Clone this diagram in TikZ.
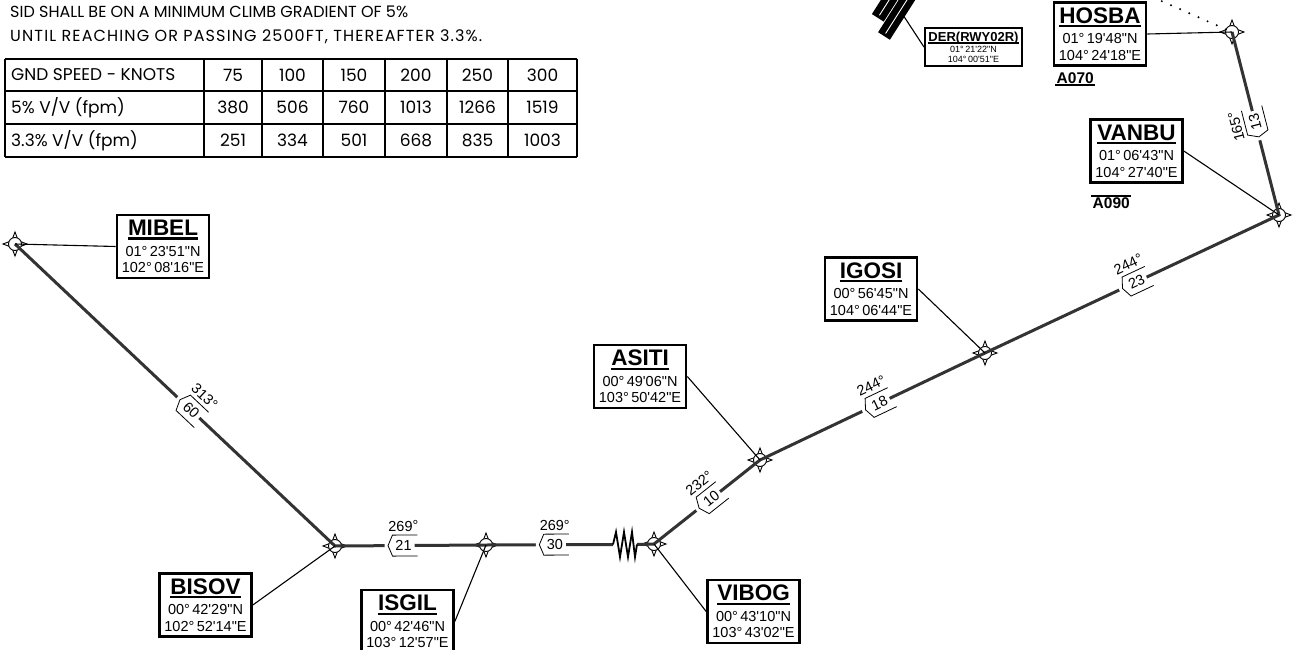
\documentclass[tikz,border=0pt]{standalone}
\usepackage{fontspec}
\usetikzlibrary{shapes.geometric}
\newfontfamily\chartfont{Liberation Sans}
\newfontfamily\notefont{Poppins}
\newcommand{\sq}{\textquotesingle}
% underlined text: {rule depth}{rule thickness}{text}
\newcommand{\ulbar}[3]{\setbox0\hbox{#3}\copy0\kern-\wd0\rule[-#1]{\wd0}{#2}}
\newcommand{\wpname}[1]{{\fontsize{22.5}{23}\selectfont\bfseries\ulbar{4pt}{2.2pt}{#1}}}
% course / distance tag on a leg: [text flip]{from}{to}{pos}{distance}{course}
\newcommand{\legtag}[6][0]{%
  \path (#2) -- (#3) coordinate[pos=#4] (tagc);
  \pgfmathanglebetweenpoints{\pgfpointanchor{#2}{center}}{\pgfpointanchor{#3}{center}}%
  \let\tagangle\pgfmathresult
  \pgfmathsetmacro\textangle{ifthenelse(and(\tagangle>90,\tagangle<270),\tagangle-180,\tagangle)+#1}%
  \begin{scope}[shift={(tagc)}, rotate=\tagangle]
    \fill[white] (-11,-4) rectangle (19,4);
    \draw[tagline] (-14,-10.5) -- (11,-10.5) -- (15.5,0) -- (11,10.5) -- (-14,10.5);
  \end{scope}
  \node[tagtext, rotate=\textangle] (tagnum) at (tagc) {#5};
  \begin{scope}[shift={(tagc)}, rotate=\textangle]
    \node[tagtext, rotate=\textangle] (tagcourse) at (0,-19.5) {#6};
  \end{scope}
}

\begin{document}
\begin{tikzpicture}[x=1pt, y=-1pt,
    leg/.style={line width=3pt, color=black!80},
    leader/.style={line width=1.1pt},
    wpt/.style={star, star points=4, star point ratio=2.6, minimum size=24pt, inner sep=0pt,
      draw, fill=white, line width=0.9pt, label={[wpring]center:}},
    wpring/.style={circle, draw, fill=white, minimum size=13pt, inner sep=0pt, line width=0.9pt},
    wpbox/.style={draw, fill=white, line width=2.4pt, align=center, inner sep=5pt,
      font=\chartfont\fontsize{14.5}{16.5}\selectfont},
    derbox/.style={draw, fill=white, line width=2pt, align=center, inner sep=3.5pt,
      font=\chartfont\fontsize{9}{10}\selectfont},
    altlabel/.style={font=\chartfont\bfseries\fontsize{15.5}{15.5}\selectfont, inner sep=1.5pt},
    altbar/.style={line width=2pt},
    tagline/.style={line width=0.8pt},
    tagtext/.style={font=\chartfont\fontsize{14.5}{15}\selectfont, inner sep=0pt},
    zigzag/.style={line width=1.8pt},
    dotline/.style={line width=2.2pt, dash pattern=on 0pt off 10pt, line cap=round},
    notetext/.style={font=\notefont\fontsize{16}{24}\selectfont, inner sep=0pt},
    tabtext/.style={font=\notefont\fontsize{17}{18}\selectfont, inner sep=0pt},
    tablegrid/.style={line width=1.2pt}
  ]
  \useasboundingbox (0,0) rectangle (1298,650);

  % climb gradient note and table
  \node[notetext, anchor=north west, align=left] (sidnote) at (10,6)
    {SID SHALL BE ON A MINIMUM CLIMB GRADIENT OF 5\%\\
     {\addfontfeature{LetterSpace=7}UNTIL REACHING OR PASSING 2500FT, THEREAFTER 3.3\%.}};
  \foreach \ty in {59,91,124,157}
    \draw[tablegrid] (5,\ty) -- (577,\ty);
  \foreach \tx in {5,204,262,323,385,447,508,577}
    \draw[tablegrid] (\tx,59) -- (\tx,157);
  \node[tabtext, anchor=west] (speedrow) at (11,75) {GND SPEED - KNOTS};
  \node[tabtext, anchor=west] (fiverow) at (11,107.5) {5\% V/V (fpm)};
  \node[tabtext, anchor=west] (threerow) at (11,140.5) {3.3\% V/V (fpm)};
  \foreach \cx/\gs/\vfive/\vthree [count=\c] in {233/75/380/251, 292.5/100/506/334,
      354/150/760/501, 416/200/1013/668, 477.5/250/1266/835, 542.5/300/1519/1003} {
    \node[tabtext] (gs-\c) at (\cx,75) {\gs};
    \node[tabtext] (five-\c) at (\cx,107.5) {\vfive};
    \node[tabtext] (three-\c) at (\cx,140.5) {\vthree};
  }

  % runway end
  \begin{scope}[shift={(884,36)}, rotate=57.5]
    \fill (0,-7) rectangle (50,7);
    \fill (12,-22) rectangle (50,-8);
    \draw[white, line width=0.9pt] (3,0) -- (50,0);
    \draw[white, line width=0.9pt] (15,-15) -- (50,-15);
  \end{scope}
  \coordinate (rwyend) at (903,15);
  \coordinate (dermark) at (1150,-4);

  % waypoints
  \node[wpt] (mibel) at (15,244) {};
  \node[wpt] (bisov) at (335,546) {};
  \node[wpt] (isgil) at (486,545) {};
  \node[wpt] (vibog) at (654,544) {};
  \node[wpt] (asiti) at (760,460) {};
  \node[wpt] (igosi) at (985,353) {};
  \node[wpt] (vanbu) at (1279,215) {};
  \node[wpt] (hosba) at (1232,32) {};
  \coordinate (zzl) at (613,544.5);
  \coordinate (zzr) at (637,544.5);

  % boxes
  \node[wpbox] (mibelbox) at (163,246.5) {\wpname{MIBEL}\\[4pt]01°\,23\sq51"N\\102°\,08\sq16"E};
  \node[wpbox] (bisovbox) at (205.5,605) {\wpname{BISOV}\\[4pt]00°\,42\sq29"N\\102°\,52\sq14"E};
  \node[wpbox] (isgilbox) at (407.5,621.5) {\wpname{ISGIL}\\[4pt]00°\,42\sq46"N\\103°\,12\sq57"E};
  \node[wpbox] (vibogbox) at (753.5,611.5) {\wpname{VIBOG}\\[4pt]00°\,43\sq10"N\\103°\,43\sq02"E};
  \node[wpbox] (asitibox) at (640,376.5) {\wpname{ASITI}\\[4pt]00°\,49\sq06"N\\103°\,50\sq42"E};
  \node[wpbox] (igosibox) at (871,289) {\wpname{IGOSI}\\[4pt]00°\,56\sq45"N\\104°\,06\sq44"E};
  \node[wpbox] (vanbubox) at (1136.5,151) {\wpname{VANBU}\\[4pt]01°\,06\sq43"N\\104°\,27\sq40"E};
  \node[wpbox] (hosbabox) at (1100,34) {\wpname{HOSBA}\\[4pt]01°\,19\sq48"N\\104°\,24\sq18"E};
  \node[derbox] (derbox) at (973.5,47)
    {{\fontsize{13}{14}\selectfont\bfseries\ulbar{2.5pt}{1.4pt}{DER(RWY02R)}}\\[1pt]01°\,21\sq22"N\\104°\,00\sq51"E};

  % altitude constraints
  \node[altlabel, anchor=north west] (hosbaalt) at (1055,71) {A070};
  \draw[altbar] (hosbaalt.south west) -- (hosbaalt.south east);
  \node[altlabel, anchor=north west] (vanbualt) at (1091,196) {A090};
  \draw[altbar] (vanbualt.north west) -- (vanbualt.north east);

  % route
  \draw[dotline] (hosba) -- (dermark);
  \draw[leg] (hosba.center) -- (vanbu.center) -- (igosi.center) -- (asiti.center) -- (vibog.center) -- (zzr);
  \draw[leg] (zzl) -- (isgil.center) -- (bisov.center) -- (mibel.center);
  \draw[zigzag] (zzl) -- (616,532) -- (620,557) -- (624,532) -- (628,557) -- (632,532) -- (635,557) -- (zzr);

  % leader lines
  \draw[leader] (rwyend) -- (derbox.west);
  \draw[leader] (hosba.center) -- (hosbabox.east);
  \draw[leader] (vanbu.center) -- (vanbubox.east);
  \draw[leader] (igosi.center) -- (igosibox.east);
  \draw[leader] (asiti.center) -- (asitibox.east);
  \draw[leader] (vibog.center) -- (vibogbox.west);
  \draw[leader] (isgil.center) -- (isgilbox.east);
  \draw[leader] (bisov.center) -- (bisovbox.east);
  \draw[leader] (mibel.center) -- (mibelbox.west);

  % tracks and distances
  \legtag[180]{hosba}{vanbu}{0.49}{13}{165°}
  \legtag{vanbu}{igosi}{0.484}{23}{244°}
  \legtag{igosi}{asiti}{0.467}{18}{244°}
  \legtag{asiti}{vibog}{0.456}{10}{232°}
  \legtag{vibog}{isgil}{0.607}{30}{269°}
  \legtag{isgil}{bisov}{0.556}{21}{269°}
  \legtag{bisov}{mibel}{0.448}{60}{313°}
\end{tikzpicture}
\end{document}
